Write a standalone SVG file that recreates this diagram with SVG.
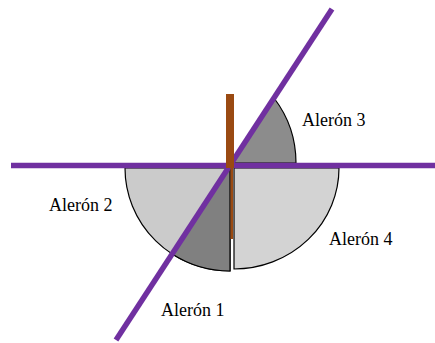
<svg xmlns="http://www.w3.org/2000/svg" width="435" height="343" viewBox="0 0 435 343">
<style>
.light{fill:#cbcbcb;stroke:#000;stroke-width:1.2}
.light2{fill:#d3d3d3;stroke:#000;stroke-width:1.2}
.dark{fill:#808080;stroke:#000;stroke-width:1.2}
.dark3{fill:#8c8c8c;stroke:#000;stroke-width:1.2}
.axis{stroke:#7030a0;stroke-width:5.5;fill:none}
.post{fill:#9a4a12}
.lbl{font-family:'Liberation Serif','Times New Roman','DejaVu Serif',serif;font-size:18px;fill:#000}
</style>
<rect width="435" height="343" fill="#fff"/>
<g id="aleron3">
<path class="dark3" d="M230 163 L274 98 A107 107 0 0 1 296 163 Z"/>
</g>
<g id="aleron2">
<path class="light" d="M230 168 L125 168 A105 103 0 0 0 230 271 Z"/>
</g>
<g id="aleron1">
<path class="dark" d="M228.2 168 L172.2 254 A105 103 0 0 0 230 271 L230 168 Z"/>
</g>
<g id="aleron4">
<path class="light2" d="M234 168 L339 168 A105 101 0 0 1 234 269 Z"/>
</g>
<g id="connectors">
<line class="axis" x1="11" y1="165.5" x2="435" y2="165.5"/>
<line class="axis" x1="332" y1="9" x2="116" y2="340"/>
<rect class="post" x="226" y="94" width="8" height="74"/>
<rect class="post" x="230.5" y="168" width="2.5" height="71"/>
</g>
<g id="labels">
<text class="lbl" font-family="Liberation Serif, serif" x="302" y="126">Alerón 3</text>
<text class="lbl" font-family="Liberation Serif, serif" x="49" y="211">Alerón 2</text>
<text class="lbl" font-family="Liberation Serif, serif" x="329" y="245">Alerón 4</text>
<text class="lbl" font-family="Liberation Serif, serif" x="161" y="316">Alerón 1</text>
</g>
</svg>
